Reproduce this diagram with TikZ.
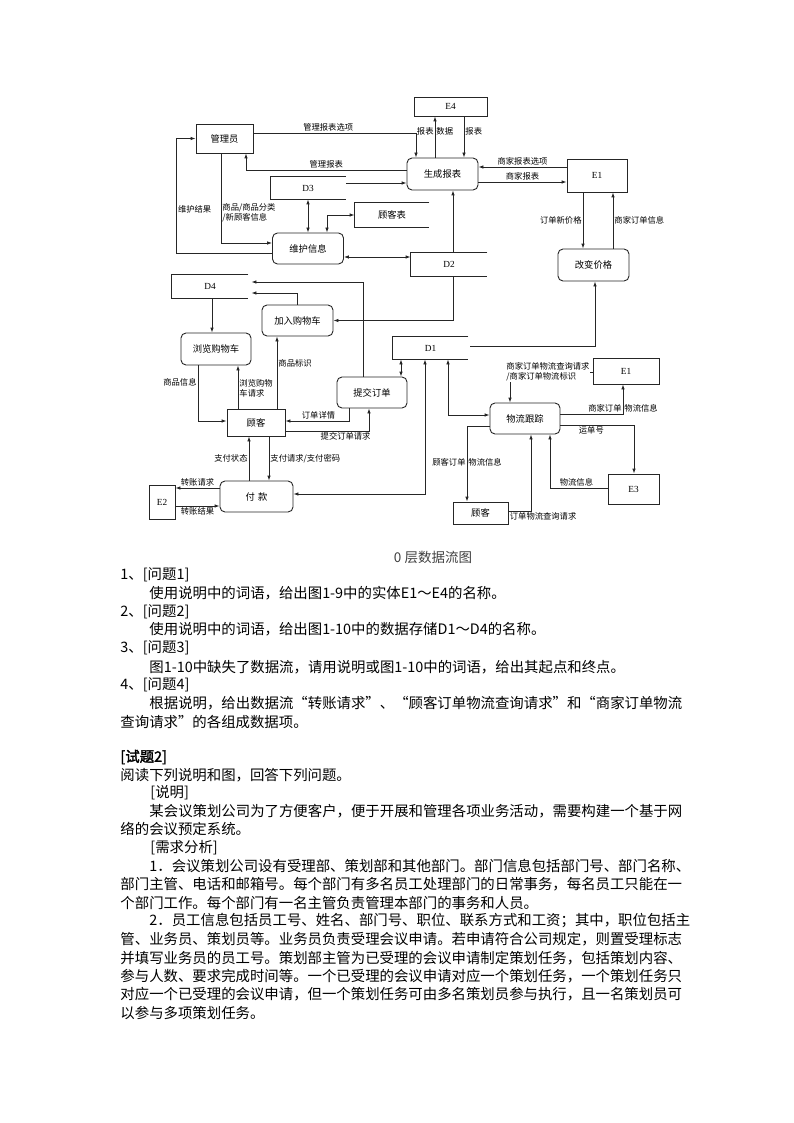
\documentclass[tikz,border=0pt]{standalone}
\usepackage{fontspec}
\setmainfont{Noto Sans CJK SC}[AutoFakeBold=2]
\newfontfamily\latinrm{Liberation Serif}
\usepackage{tikz}
\usetikzlibrary{arrows.meta, positioning, calc}
\newcommand{\nodefont}{\fontsize{9.3}{11}\selectfont}
\newcommand{\lblfont}{\fontsize{8.3}{10}\selectfont}
\newcommand{\bodyfont}{\fontsize{14.4}{18}\selectfont}
\newcommand{\capfont}{\fontsize{13.5}{16}\selectfont}
\tikzstyle{entity} = [rectangle, draw, inner sep=0pt, font=\nodefont]
\tikzstyle{process} = [rectangle, rounded corners=5pt, draw, inner sep=0pt, font=\nodefont]
\tikzstyle{store} = [rectangle, inner sep=0pt, font=\nodefont]
\tikzstyle{flow} = [->, >={Latex[length=5pt,width=3.6pt]}]
\tikzstyle{biflow} = [<->, >={Latex[length=5pt,width=3.6pt]}]
\tikzstyle{lbl} = [font=\lblfont, inner sep=1pt]
\tikzstyle{txt} = [anchor=west, inner sep=0pt, font=\bodyfont]
% open-ended data store
\newcommand{\storelines}[1]{\draw (#1.north east) -- (#1.north west) -- (#1.south west) -- (#1.south east);}
\begin{document}
\begin{tikzpicture}[x=1pt, y=-1pt, line width=0.9pt, draw=black!85]
\useasboundingbox (0,0) rectangle (794,1123);

% entities and processes
\node (e4) [entity, minimum width=73pt, minimum height=19pt] at (450.5,106.5) {\latinrm E4};
\node (admin) [entity, minimum width=57pt, minimum height=29pt] at (224.5,138.5) {管理员};
\node (report) [process, minimum width=71pt, minimum height=32pt] at (442.5,174) {生成报表};
\node (e1a) [entity, minimum width=60pt, minimum height=33pt] at (597,175.5) {\latinrm E1};
\node (maint) [process, minimum width=71pt, minimum height=31pt] at (308,248.5) {维护信息};
\node (price) [process, minimum width=71pt, minimum height=32pt] at (593.5,265) {改变价格};
\node (addcart) [process, minimum width=71pt, minimum height=31pt] at (297.5,320.5) {加入购物车};
\node (browse) [process, minimum width=70pt, minimum height=32pt] at (216,349) {浏览购物车};
\node (submit) [process, minimum width=70pt, minimum height=31pt] at (372,392.5) {提交订单};
\node (cust) [entity, minimum width=58pt, minimum height=27pt] at (256,422.5) {顾客};
\node (pay) [process, minimum width=73pt, minimum height=31pt] at (256.5,496.5) {付\,\,款};
\node (e2) [entity, minimum width=26pt, minimum height=34pt] at (162,502) {\latinrm E2};
\node (e1b) [entity, minimum width=66pt, minimum height=26pt] at (626,371) {\latinrm E1};
\node (track) [process, minimum width=70pt, minimum height=31pt] at (525,418.5) {物流跟踪};
\node (e3) [entity, minimum width=51pt, minimum height=30pt] at (633.5,489) {\latinrm E3};
\node (cust2) [entity, minimum width=55pt, minimum height=22pt] at (480.5,513) {顾客};

% data stores
\node (d3) [store, minimum width=75pt, minimum height=22pt] at (308,188) {\latinrm D3};
\node (custtab) [store, minimum width=74pt, minimum height=24pt] at (392,215) {顾客表};
\node (d2) [store, minimum width=76pt, minimum height=23pt] at (449,264.5) {\latinrm D2};
\node (d4) [store, minimum width=76pt, minimum height=23pt] at (210,286.5) {\latinrm D4};
\node (d1) [store, minimum width=75pt, minimum height=22pt] at (430.5,348) {\latinrm D1};
\storelines{d3}
\storelines{custtab}
\storelines{d2}
\storelines{d4}
\storelines{d1}

% flows
\draw [flow] ([yshift=5.5pt]admin.east) -| node[lbl, above, pos=0.23] {管理报表选项} ([xshift=-26.5pt]report.north);
\draw [flow] ([yshift=4pt]report.west) -| node[lbl, above, pos=0.25] {管理报表} ([xshift=21.5pt]admin.south);
\draw [flow] ([yshift=5pt]d3.east) -- ([yshift=-9pt]report.west);
\draw [flow] ([xshift=-7.5pt]report.north) -- node[lbl, left, pos=0.64] {报表} node[lbl, right, pos=0.64] {数据} ([xshift=-15.5pt]e4.south);
\draw [flow] ([xshift=13.5pt]e4.south) -- node[lbl, right, pos=0.36] {报表} ([xshift=21.5pt]report.north);
\draw [flow] ([xshift=-3.5pt]admin.south) |- node[lbl, right, align=left, pos=0.33] {商品/商品分类\\/新顾客信息} ([yshift=5.5pt]maint.west);
\draw [flow] ([yshift=-4.5pt]maint.west) -| node[lbl, right, pos=0.69] {维护结果} ([xshift=-19pt]admin.west) -- (admin.west);
\draw [biflow] (d3.south) -- (maint.north);
\draw [biflow] ([xshift=19pt]maint.north) |- (custtab.west);
\draw [biflow] ([yshift=-8.5pt]maint.east) -- ([yshift=7.5pt]d2.west);
\draw [flow] ([xshift=4pt]d2.north) -- ([xshift=10.5pt]report.south);
\draw [flow] ([yshift=8.5pt]e1a.west) -- node[lbl, above] {商家报表选项} ([yshift=7pt]report.east);
\draw [flow] ([yshift=-8pt]report.east) -- node[lbl, above] {商家报表} ([yshift=-6.5pt]e1a.west);
\draw [flow] ([xshift=-14pt]e1a.south) -- node[lbl, left] {订单新价格} ([xshift=-10.5pt]price.north);
\draw [flow] ([xshift=19.5pt]price.north) -- node[lbl, right] {商家订单信息} ([xshift=16pt]e1a.south);
\draw [flow] ([xshift=2pt,yshift=2pt]d1.east) -| ([xshift=1.5pt]price.south);
\draw [flow] ([xshift=4pt]d2.south) |- (addcart.east);
\draw [flow] ([xshift=-0.5pt]addcart.north) |- ([xshift=3pt,yshift=-6.5pt]d4.east);
\draw [flow] ([xshift=-9pt]submit.north) |- ([xshift=3pt,yshift=4.5pt]d4.east);
\draw [flow] ([xshift=2pt]d4.south) -- ([xshift=-4pt]browse.north);
\draw [flow] ([xshift=-18pt]browse.south) |- node[lbl, left, pos=0.15] {商品信息} ([yshift=1.5pt]cust.west);
\draw [flow] ([xshift=-18pt]cust.north) -- node[lbl, right, align=left, pos=0.48] {浏览购物\\车请求} ([xshift=22pt]browse.south);
\draw [flow] ([xshift=21pt]cust.north) -- node[lbl, right, pos=0.63] {商品标识} ([xshift=-20.5pt]addcart.south);
\draw [flow] ([xshift=-23pt]submit.south) |- node[lbl, above, pos=0.74] {订单详情} ([yshift=1.5pt]cust.east);
\draw [flow] ([yshift=-8.5pt]cust.east) -| node[lbl, below, pos=0.36] {提交订单请求} ([xshift=-3pt]submit.south);
\draw [flow] ([xshift=-7.5pt]pay.north) -- node[lbl, left] {支付状态} ([xshift=-7pt]cust.south);
\draw [flow] ([xshift=13pt]cust.south) -- node[lbl, right] {支付请求/支付密码} ([xshift=12.5pt]pay.north);
\draw [flow] ([yshift=8.5pt]pay.west) -- node[lbl, above] {转账请求} ([yshift=14pt]e2.east);
\draw [flow] ([yshift=-4pt]e2.east) -- node[lbl, below] {转账结果} ([yshift=-9.5pt]pay.west);
\draw [biflow] ([yshift=2.5pt]pay.east) -| ([xshift=-5.5pt]d1.south);
\draw [biflow] ([xshift=-29.5pt]d1.south) -- ([xshift=29pt]submit.north);
\draw [biflow] ([xshift=17.5pt]d1.south) |- ([yshift=3.5pt]track.west);
\draw [flow] ([yshift=-1pt]e1b.west) -| node[lbl, fill=white, align=left, inner sep=0.5pt, pos=0.27] {商家订单物流查询请求\\/商家订单物流标识} ([xshift=-15pt]track.north);
\draw [flow] ([yshift=4.5pt]track.east) -| node[lbl, above left, pos=0.5] {商家订单} node[lbl, above right, pos=0.5] {物流信息} ([xshift=-3pt]e1b.south);
\draw [flow] ([yshift=-6.5pt]track.east) -| node[lbl, below, pos=0.21] {运单号} ([xshift=0.5pt]e3.north);
\draw [flow] ([yshift=1pt]e3.west) -| node[lbl, above, pos=0.27] {物流信息} ([xshift=25pt]track.south);
\draw [flow] ([yshift=-7.5pt]track.west) -| node[lbl, left, pos=0.74] {顾客订单} node[lbl, right, pos=0.74] {物流信息} ([xshift=-13.5pt]cust2.north);
\draw [flow] ([yshift=2pt]cust2.east) -| node[lbl, below right, pos=0] {订单物流查询请求} ([xshift=6pt]track.south);

\node (caption) [font=\capfont, text=black!75] at (433,557) {0 层数据流图};

% questions and text
\node (q1) [txt] at (120,575) {1、[问题1]};
\node (q1t) [txt] at (149,593) {使用说明中的词语，给出图1-9中的实体E1～E4的名称。};
\node (q2) [txt] at (120,612) {2、[问题2]};
\node (q2t) [txt] at (149,629) {使用说明中的词语，给出图1-10中的数据存储D1～D4的名称。};
\node (q3) [txt] at (120,648) {3、[问题3]};
\node (q3t) [txt] at (149,667) {图1-10中缺失了数据流，请用说明或图1-10中的词语，给出其起点和终点。};
\node (q4) [txt] at (120,685) {4、[问题4]};
\node (q4t) [txt] at (149,703) {根据说明，给出数据流“转账请求”、“顾客订单物流查询请求”和“商家订单物流};
\node (q4u) [txt] at (120,722) {查询请求”的各组成数据项。};
\node (t2) [txt, font=\bodyfont\bfseries] at (120,757) {[试题2]};
\node (t2a) [txt] at (120,775) {阅读下列说明和图，回答下列问题。};
\node (t2b) [txt] at (150,793) {[说明]};
\node (t2c) [txt] at (149,811) {某会议策划公司为了方便客户，便于开展和管理各项业务活动，需要构建一个基于网};
\node (t2d) [txt] at (120,829) {络的会议预定系统。};
\node (t2e) [txt] at (150,848) {[需求分析]};
\node (t2f) [txt] at (149,866) {1．会议策划公司设有受理部、策划部和其他部门。部门信息包括部门号、部门名称、};
\node (t2g) [txt] at (120,884) {部门主管、电话和邮箱号。每个部门有多名员工处理部门的日常事务，每名员工只能在一};
\node (t2h) [txt] at (120,903) {个部门工作。每个部门有一名主管负责管理本部门的事务和人员。};
\node (t2i) [txt] at (149,921) {2．员工信息包括员工号、姓名、部门号、职位、联系方式和工资；其中，职位包括主};
\node (t2j) [txt] at (120,939) {管、业务员、策划员等。业务员负责受理会议申请。若申请符合公司规定，则置受理标志};
\node (t2k) [txt] at (120,958) {并填写业务员的员工号。策划部主管为已受理的会议申请制定策划任务，包括策划内容、};
\node (t2l) [txt] at (120,976) {参与人数、要求完成时间等。一个已受理的会议申请对应一个策划任务，一个策划任务只};
\node (t2m) [txt] at (120,994) {对应一个已受理的会议申请，但一个策划任务可由多名策划员参与执行，且一名策划员可};
\node (t2n) [txt] at (120,1013) {以参与多项策划任务。};
\end{tikzpicture}
\end{document}
